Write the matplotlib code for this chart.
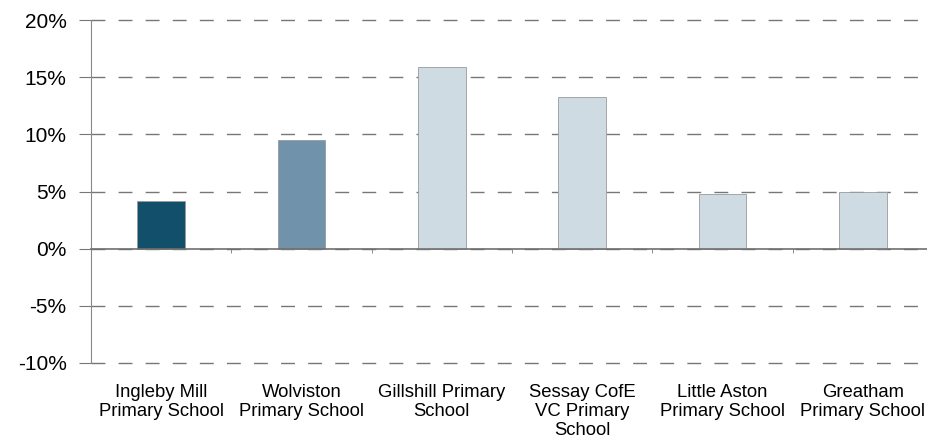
import numpy as np
import matplotlib.pyplot as plt
from matplotlib.ticker import FuncFormatter, FixedLocator

plt.rcParams['font.family'] = ['Liberation Sans', 'DejaVu Sans']

schools = ['Ingleby Mill\nPrimary School', 'Wolviston\nPrimary School',
           'Gillshill Primary\nSchool', 'Sessay CofE\nVC Primary\nSchool',
           'Little Aston\nPrimary School', 'Greatham\nPrimary School']
values = [4.15, 9.5, 15.85, 13.3, 4.8, 5.0]
colours = ['#124f6b', '#7093ab', '#cfdbe3', '#cfdbe3', '#cfdbe3', '#cfdbe3']
y_ticks = [-10, -5, 0, 5, 10, 15, 20]


def main():
    fig = plt.figure(figsize=(9.28, 4.46), dpi=100)
    ax = fig.add_axes([91 / 928, 1 - 363 / 446, 842 / 928, 343 / 446])
    x = np.arange(len(schools))
    ax.bar(x, values, width=0.34, color=colours, edgecolor='#9a9a9a',
           linewidth=0.6, zorder=3)
    ax.set_xlim(-0.5, len(schools) - 0.5)
    ax.set_ylim(-10, 20)

    ax.yaxis.set_major_locator(FixedLocator(y_ticks))
    ax.yaxis.set_major_formatter(FuncFormatter(lambda v, p: '%d%%' % v))
    ax.tick_params(axis='y', length=8.6, color='#777777', labelsize=15, pad=9)
    ax.grid(axis='y', linestyle=(0, (10, 9.5)), color='#777777', linewidth=1)
    for line in ax.get_ygridlines():
        line.set_clip_on(False)
    ax.set_axisbelow(True)

    for s in ['top', 'right']:
        ax.spines[s].set_visible(False)
    ax.spines['left'].set_color('#888888')
    ax.spines['bottom'].set_position(('data', 0))
    ax.spines['bottom'].set_color('#6f6f6f')
    ax.spines['bottom'].set_linewidth(1.2)
    ax.spines['bottom'].set_zorder(4)
    ax.set_xticks(x)
    ax.set_xticklabels([])
    ax.tick_params(axis='x', which='major', length=0)
    ax.set_xticks(np.arange(len(schools) + 1) - 0.5, minor=True)
    ax.tick_params(axis='x', which='minor', length=3, color='#777777')

    sec = ax.secondary_xaxis('bottom')
    sec.set_xticks(x)
    sec.set_xticklabels(schools, fontsize=13.3, linespacing=1.15)
    sec.tick_params(length=0, pad=15)
    sec.spines['bottom'].set_visible(False)

    fig.savefig('out.png', dpi=100)


if __name__ == "__main__":
    main()
